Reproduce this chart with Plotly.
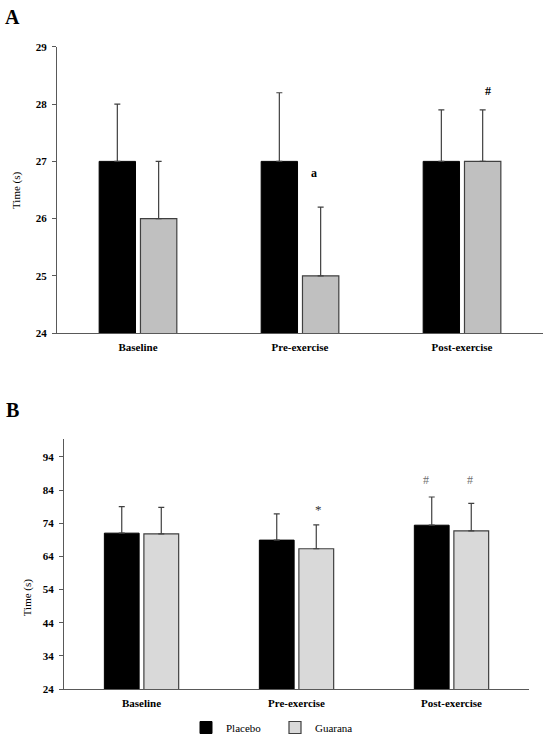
import plotly.graph_objects as go

# --- data ---
categories = ["Baseline", "Pre-exercise", "Post-exercise"]

# panel A
a_placebo = [27.0, 27.0, 27.0]
a_placebo_sd = [1.0, 1.2, 0.9]
a_guarana = [26.0, 25.0, 27.0]
a_guarana_sd = [1.0, 1.2, 0.9]
a_ticks = [24, 25, 26, 27, 28, 29]

# panel B
b_placebo = [71.0, 68.9, 73.4]
b_placebo_sd = [8.0, 7.9, 8.5]
b_guarana = [70.8, 66.3, 71.7]
b_guarana_sd = [8.0, 7.2, 8.3]
b_ticks = [24, 34, 44, 54, 64, 74, 84, 94]

SERIF = "Liberation Serif"
AXIS_COL = "#595959"
ERR_COL = "#404040"


def err(vals):
    return dict(type="data", symmetric=False, array=vals, arrayminus=[0] * len(vals),
                color=ERR_COL, thickness=1.2, width=3)


fig = go.Figure()

# --- Panel A ---
fig.add_trace(go.Bar(x=categories, y=a_placebo, name="Placebo", marker_color="black",
                     marker_line=dict(color="black", width=1), error_y=err(a_placebo_sd),
                     xaxis="x", yaxis="y", showlegend=False))
fig.add_trace(go.Bar(x=categories, y=a_guarana, name="Guarana", marker_color="#c0c0c0",
                     marker_line=dict(color=ERR_COL, width=1.2), error_y=err(a_guarana_sd),
                     xaxis="x", yaxis="y", showlegend=False))

# --- Panel B ---
fig.add_trace(go.Bar(x=categories, y=b_placebo, name="Placebo", marker_color="black",
                     marker_line=dict(color="black", width=1), error_y=err(b_placebo_sd),
                     xaxis="x2", yaxis="y2"))
fig.add_trace(go.Bar(x=categories, y=b_guarana, name="Guarana", marker_color="#d9d9d9",
                     marker_line=dict(color=ERR_COL, width=1.2), error_y=err(b_guarana_sd),
                     xaxis="x2", yaxis="y2"))

tick_font = dict(family=SERIF, size=11, color="black", weight="bold")
xcommon = dict(showline=True, linecolor=AXIS_COL, linewidth=1, ticks="", tickfont=tick_font,
               showgrid=False, zeroline=False, fixedrange=True, ticklabelstandoff=4)
ycommon = dict(showline=True, linecolor=AXIS_COL, linewidth=1, ticks="outside", ticklen=4,
               tickcolor=AXIS_COL, tickfont=tick_font, showgrid=False, zeroline=False,
               ticklabelstandoff=3)

fig.update_layout(
    width=550, height=742,
    margin=dict(l=0, r=0, t=0, b=0, autoexpand=False),
    paper_bgcolor="white", plot_bgcolor="white",
    barmode="group", bargap=0.49, bargroupgap=0.12,
    font=dict(family=SERIF, color="black"),
    xaxis=dict(domain=[0.1036, 0.9873], anchor="y", **xcommon),
    yaxis=dict(domain=[0.5512, 0.9367], anchor="x", range=[24, 29], tickvals=a_ticks, **ycommon),
    xaxis2=dict(domain=[0.1164, 0.9618], anchor="y2", **xcommon),
    yaxis2=dict(domain=[0.0714, 0.4084], anchor="x2", range=[24, 99.4], tickvals=b_ticks, **ycommon),
    legend=dict(orientation="h", x=0.5, xanchor="center", y=0, yanchor="bottom",
                font=dict(family=SERIF, size=11, color="black"), itemwidth=30,
                entrywidth=44, traceorder="normal"),
)

ann = [
    # panel letters
    dict(text="<b>A</b>", x=0.022, y=0.977, font=dict(size=20)),
    dict(text="<b>B</b>", x=0.022, y=0.447, font=dict(size=20)),
    # axis titles
    dict(text="Time (s)", x=0.031, y=0.744, textangle=-90, font=dict(size=11)),
    dict(text="Time (s)", x=0.049, y=0.195, textangle=-90, font=dict(size=11)),
]
for a in ann:
    a.update(xref="paper", yref="paper", showarrow=False, xanchor="center", yanchor="middle")
    a["font"]["family"] = SERIF
    a["font"]["color"] = "black"
    fig.add_annotation(**a)

# significance markers
fig.add_annotation(text="<b>a</b>", x="Pre-exercise", y=26.8, xref="x", yref="y", xshift=14,
                   showarrow=False, font=dict(family=SERIF, size=12, color="black"))
fig.add_annotation(text="<b>#</b>", x="Post-exercise", y=28.23, xref="x", yref="y", xshift=26,
                   showarrow=False, font=dict(family=SERIF, size=12, color="black"))
fig.add_annotation(text="*", x="Pre-exercise", y=78.0, xref="x2", yref="y2", xshift=22,
                   showarrow=False, font=dict(family=SERIF, size=13, color="#333333"))
fig.add_annotation(text="#", x="Post-exercise", y=87.0, xref="x2", yref="y2", xshift=-26,
                   showarrow=False, font=dict(family=SERIF, size=12, color="#707070"))
fig.add_annotation(text="#", x="Post-exercise", y=87.0, xref="x2", yref="y2", xshift=18,
                   showarrow=False, font=dict(family=SERIF, size=12, color="#707070"))

# drop the default page margin so the figure sits at the window's top-left corner
fig.write_html("out.html", config={"displayModeBar": False},
               post_script="document.body.style.margin='0';")
